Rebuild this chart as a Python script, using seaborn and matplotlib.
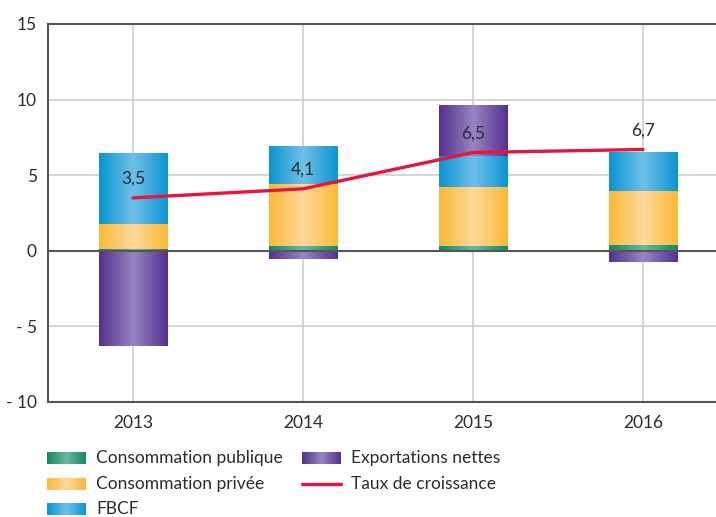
import numpy as np
import pandas as pd
import matplotlib
matplotlib.use("Agg")
import matplotlib.pyplot as plt
from matplotlib.colors import LinearSegmentedColormap
import seaborn as sns

# Contributions à la croissance du PIB (points de %)
years = ["2013", "2014", "2015", "2016"]
conso_publique = [0.15, 0.35, 0.35, 0.4]
conso_privee = [1.65, 4.1, 3.9, 3.55]
fbcf = [4.7, 2.45, 2.05, 2.6]
export_nettes = [-6.3, -0.55, 3.35, -0.75]
taux_croissance = [3.5, 4.1, 6.5, 6.7]

y_ticks = [-10, -5, 0, 5, 10, 15]
y_tick_labels = ["- 10", "- 5", "0", "5", "10", "15"]

series_names = ["Consommation publique", "Consommation privée", "FBCF", "Exportations nettes"]
# (edge colour, centre colour) of the horizontal gradient on each bar
gradients = {
    "Consommation publique": ("#108a62", "#6cb89b"),
    "Consommation privée": ("#fbb934", "#fdd99c"),
    "FBCF": ("#0a95d2", "#6fc0e8"),
    "Exportations nettes": ("#55308e", "#9786c2"),
}
line_color = "#e3173e"
text_color = "#2b2b2b"
axis_color = "#555555"
grid_color = "#d4d4d4"

sns.set_style("white")
plt.rcParams["font.family"] = ["Lato", "DejaVu Sans"]

W, H = 716, 517
fig = plt.figure(figsize=(W / 100, H / 100), dpi=100)
ax = fig.add_axes([48 / W, 1 - 402 / H, 1 - 48 / W, (402 - 24) / H])

def grad_cmap(name):
    edge, centre = gradients[name]
    return LinearSegmentedColormap.from_list(name, [edge, centre, edge])

grad_img = np.linspace(0, 1, 256).reshape(1, -1)

# stacked bars: positive parts stack upward, negative parts hang below zero
pos_stack = np.zeros(len(years))
neg_stack = np.zeros(len(years))
for name, vals in zip(series_names, [conso_publique, conso_privee, fbcf, export_nettes]):
    vals = np.asarray(vals, dtype=float)
    bottoms = np.where(vals >= 0, pos_stack, neg_stack)
    n_before = len(ax.patches)
    sns.barplot(x=years, y=vals, bottom=bottoms, width=0.405, color=gradients[name][0],
                errorbar=None, linewidth=0, ax=ax, zorder=2)
    for patch in ax.patches[n_before:]:
        x0, y0 = patch.get_x(), patch.get_y()
        w, h = patch.get_width(), patch.get_height()
        if h == 0:
            continue
        im = ax.imshow(grad_img, cmap=grad_cmap(name), aspect="auto",
                       extent=[x0, x0 + w, min(y0, y0 + h), max(y0, y0 + h)],
                       interpolation="bicubic", zorder=2.1)
        im.set_clip_path(patch)
        patch.set_visible(False)
    pos_stack += np.where(vals >= 0, vals, 0)
    neg_stack += np.where(vals < 0, vals, 0)

# growth rate line with its value labels
pos = np.arange(len(years))
sns.lineplot(x=pos, y=taux_croissance, color=line_color, linewidth=2.4, ax=ax, zorder=4)
for p, v in zip(pos, taux_croissance):
    ax.text(p, v + 0.95, f"{v:.1f}".replace(".", ","), ha="center", va="baseline",
            fontsize=12.5, color=text_color, zorder=5)

ax.set_xlim(-0.5, (W - 48) / 170 - 0.5)
ax.set_ylim(-10, 15)
ax.set_yticks(y_ticks)
ax.set_yticklabels(y_tick_labels)
ax.set_xticks(pos)
ax.set_xticklabels(years)
ax.tick_params(axis="both", length=0, labelsize=12.5, labelcolor=text_color)
ax.tick_params(axis="y", pad=8)
ax.tick_params(axis="x", pad=9)
ax.set_xlabel("")
ax.set_ylabel("")

# grid
for yv in [10, 5, -5]:
    ax.axhline(yv, color=grid_color, linewidth=1.4, zorder=0.5)
for p in pos:
    ax.axvline(p, color=grid_color, linewidth=1.4, zorder=0.5)
ax.axhline(0, color=axis_color, linewidth=1.5, zorder=3)

for side in ["left", "top", "bottom"]:
    ax.spines[side].set_visible(True)
    ax.spines[side].set_color(axis_color)
    ax.spines[side].set_linewidth(1.5)
ax.spines["right"].set_visible(False)

# legend drawn in pixel coordinates beneath the plot
lax = fig.add_axes([0, 0, 1, 1], zorder=-1)
lax.set_xlim(0, W)
lax.set_ylim(H, 0)
lax.axis("off")
legend_items = [
    ("Consommation publique", 47, 458),
    ("Consommation privée", 47, 484),
    ("FBCF", 47, 509),
    ("Exportations nettes", 302, 458),
]
for name, x0, yc in legend_items:
    lax.imshow(grad_img, cmap=grad_cmap(name), aspect="auto",
               extent=[x0, x0 + 39, yc + 6, yc - 6], interpolation="bicubic")
    lax.text(x0 + 49, yc, name, ha="left", va="center", fontsize=12.5, color=text_color)
lax.plot([302, 341], [484, 484], color=line_color, linewidth=2.4, solid_capstyle="round")
lax.text(351, 484, "Taux de croissance", ha="left", va="center", fontsize=12.5, color=text_color)
lax.set_xlim(0, W)
lax.set_ylim(H, 0)

fig.savefig("out.png", dpi=100)
